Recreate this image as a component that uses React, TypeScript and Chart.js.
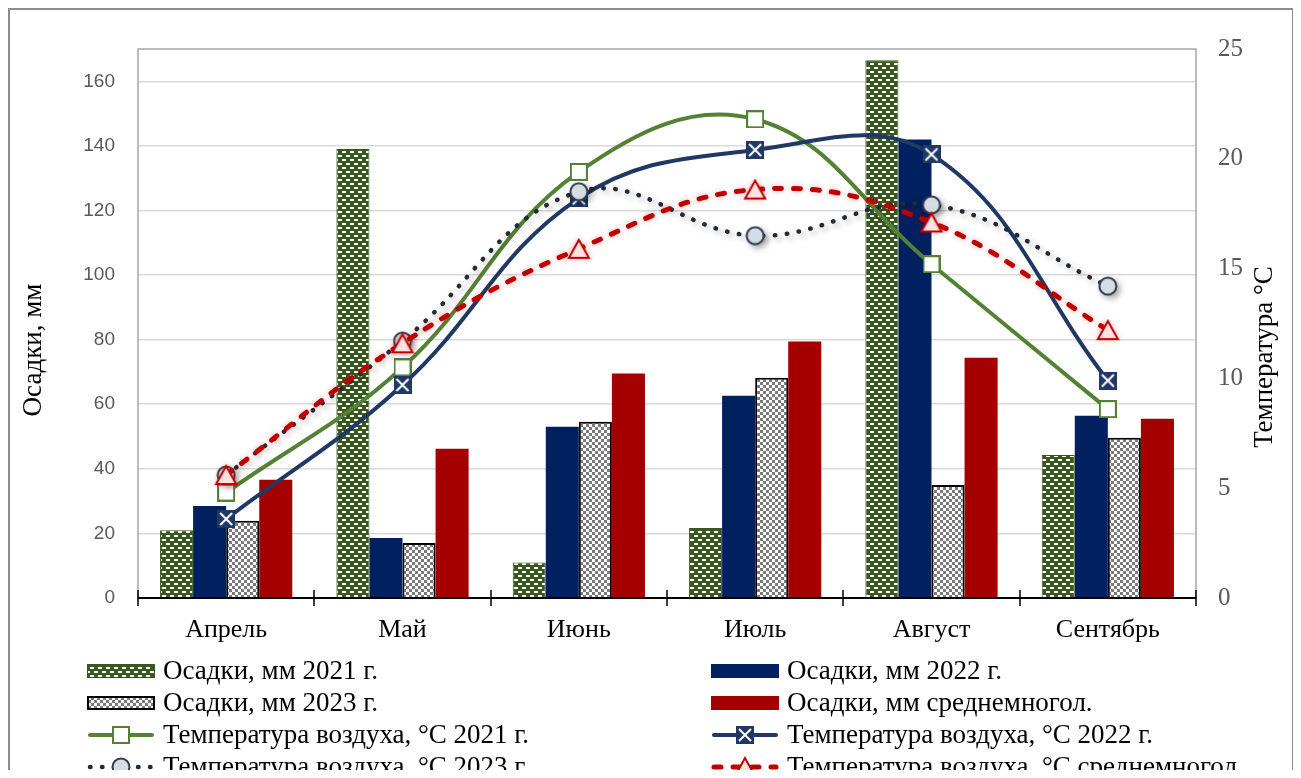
import React, { useEffect, useRef } from 'react';
import { Chart, registerables } from 'chart.js';

Chart.register(...registerables);

const months = ['Апрель', 'Май', 'Июнь', 'Июль', 'Август', 'Сентябрь'];

const precip2021 = [21, 139, 11, 21.7, 166.5, 44.3];
const precip2022 = [28.5, 18.6, 53, 62.6, 142, 56.4];
const precip2023 = [23.9, 17, 54.6, 68.2, 35, 49.6];
const precipMean = [36.6, 46.2, 69.5, 79.4, 74.4, 55.5];

const temp2021 = [4.8, 10.5, 19.4, 21.8, 15.2, 8.6];
const temp2022 = [3.6, 9.7, 18.2, 20.4, 20.2, 9.9];
const temp2023 = [5.6, 11.7, 18.5, 16.5, 17.9, 14.2];
const tempMean = [5.6, 11.6, 15.9, 18.6, 17.1, 12.2];

const seriesLabels = [
  'Осадки, мм 2021 г.',
  'Осадки, мм 2022 г.',
  'Осадки, мм 2023 г.',
  'Осадки, мм среднемногол.',
  'Температура воздуха, °С 2021 г.',
  'Температура воздуха, °С 2022 г.',
  'Температура воздуха, °С 2023 г.',
  'Температура воздуха, °С среднемногол.',
];

const leftTitle = 'Осадки, мм';
const rightTitle = 'Температура °С';

const GREEN_BAR = '#38581f';
const NAVY_BAR = '#002060';
const RED_BAR = '#a50000';
const GREEN_LINE = '#548235';
const NAVY_LINE = '#203864';
const DOT_LINE = '#222a35';
const RED_LINE = '#c00000';

function makeCanvas(w: number, h: number, draw: (g: CanvasRenderingContext2D) => void) {
  const c = document.createElement('canvas');
  c.width = w;
  c.height = h;
  const g = c.getContext('2d')!;
  draw(g);
  return c;
}

const SERIF = '"Liberation Serif", "Times New Roman", serif';
const SANS = '"Liberation Sans", Arial, sans-serif';

export default function App() {
  const ref = useRef<HTMLCanvasElement | null>(null);

  useEffect(() => {
    document.documentElement.style.overflow = 'hidden';
    const canvas = ref.current!;
    const ctx = canvas.getContext('2d')!;

    const dashTile = makeCanvas(8, 8, (g) => {
      g.fillStyle = GREEN_BAR;
      g.fillRect(0, 0, 8, 8);
      g.fillStyle = '#ffffff';
      g.fillRect(0, 1, 4, 2);
      g.fillRect(4, 5, 4, 2);
    });
    const checkTile = makeCanvas(6, 6, (g) => {
      g.fillStyle = '#ffffff';
      g.fillRect(0, 0, 6, 6);
      g.fillStyle = '#7a7a7a';
      g.fillRect(0, 0, 3, 3);
      g.fillRect(3, 3, 3, 3);
    });
    const dashPattern = ctx.createPattern(dashTile, 'repeat')!;
    const checkPattern = ctx.createPattern(checkTile, 'repeat')!;

    const sqMarker = makeCanvas(18, 18, (g) => {
      g.fillStyle = '#ffffff';
      g.fillRect(1, 1, 16, 16);
      g.strokeStyle = GREEN_LINE;
      g.lineWidth = 2;
      g.strokeRect(1, 1, 16, 16);
    });
    const xMarker = makeCanvas(18, 18, (g) => {
      g.fillStyle = NAVY_LINE;
      g.fillRect(0, 0, 18, 18);
      g.strokeStyle = '#ffffff';
      g.lineWidth = 2;
      g.beginPath();
      g.moveTo(3, 3);
      g.lineTo(15, 15);
      g.moveTo(15, 3);
      g.lineTo(3, 15);
      g.stroke();
    });
    const circleMarker = makeCanvas(20, 20, (g) => {
      g.beginPath();
      g.arc(10, 10, 8.5, 0, Math.PI * 2);
      g.fillStyle = '#d6dce4';
      g.fill();
      g.strokeStyle = '#2f3b4f';
      g.lineWidth = 2;
      g.stroke();
    });
    const triMarker = makeCanvas(24, 22, (g) => {
      g.beginPath();
      g.moveTo(12, 2);
      g.lineTo(22, 20);
      g.lineTo(2, 20);
      g.closePath();
      g.fillStyle = '#fde2e2';
      g.fill();
      g.strokeStyle = RED_LINE;
      g.lineWidth = 2;
      g.stroke();
    });

    const barCommon = {
      type: 'bar' as const,
      yAxisID: 'y',
      order: 10,
      barPercentage: 1,
      categoryPercentage: 0.75,
    };

    const lineCommon = {
      type: 'line' as const,
      yAxisID: 'y1',
      tension: 0.4,
      fill: false,
      pointRadius: 8,
      borderCapStyle: 'round' as const,
    };

    const datasets: any[] = [
      { ...barCommon, label: seriesLabels[0], data: precip2021, backgroundColor: dashPattern, borderColor: GREEN_BAR, borderWidth: 1 },
      { ...barCommon, label: seriesLabels[1], data: precip2022, backgroundColor: NAVY_BAR, borderWidth: 0 },
      { ...barCommon, label: seriesLabels[2], data: precip2023, backgroundColor: checkPattern, borderColor: '#000000', borderWidth: 2 },
      { ...barCommon, label: seriesLabels[3], data: precipMean, backgroundColor: RED_BAR, borderWidth: 0 },
      { ...lineCommon, label: seriesLabels[4], data: temp2021, borderColor: GREEN_LINE, borderWidth: 4, pointStyle: sqMarker, order: 4 },
      { ...lineCommon, label: seriesLabels[5], data: temp2022, borderColor: NAVY_LINE, borderWidth: 4, pointStyle: xMarker, order: 3 },
      {
        ...lineCommon, label: seriesLabels[6], data: temp2023, borderColor: DOT_LINE, borderWidth: 4.5,
        borderDash: [0.5, 11.5], pointStyle: circleMarker, order: 2,
        shadow: { color: 'rgba(0,0,0,0.35)', blur: 6, x: 3, y: 3 },
      },
      {
        ...lineCommon, label: seriesLabels[7], data: tempMean, borderColor: RED_LINE, borderWidth: 5,
        borderDash: [7, 12], pointStyle: triMarker, order: 1,
        shadow: { color: 'rgba(192,0,0,0.3)', blur: 6, x: 0, y: 0 },
      },
    ];

    const legendItems = [
      { kind: 'bar', fill: dashPattern, stroke: GREEN_BAR, sw: 1 },
      { kind: 'bar', fill: NAVY_BAR, stroke: null, sw: 0 },
      { kind: 'bar', fill: checkPattern, stroke: '#000000', sw: 2 },
      { kind: 'bar', fill: RED_BAR, stroke: null, sw: 0 },
      { kind: 'line', color: GREEN_LINE, width: 4, dash: [] as number[], marker: sqMarker },
      { kind: 'line', color: NAVY_LINE, width: 4, dash: [] as number[], marker: xMarker },
      { kind: 'line', color: DOT_LINE, width: 4.5, dash: [0.5, 11.5], marker: circleMarker },
      { kind: 'line', color: RED_LINE, width: 5, dash: [7, 12], marker: triMarker },
    ];

    const shadowPlugin = {
      id: 'shadowPlugin',
      beforeDatasetDraw(chart: any, args: any) {
        const ds = chart.data.datasets[args.index];
        if (ds.shadow) {
          const c = chart.ctx;
          c.save();
          c.shadowColor = ds.shadow.color;
          c.shadowBlur = ds.shadow.blur;
          c.shadowOffsetX = ds.shadow.x;
          c.shadowOffsetY = ds.shadow.y;
        }
      },
      afterDatasetDraw(chart: any, args: any) {
        const ds = chart.data.datasets[args.index];
        if (ds.shadow) chart.ctx.restore();
      },
    };

    const decorPlugin = {
      id: 'decorPlugin',
      beforeDatasetsDraw(chart: any) {
        const c = chart.ctx;
        const a = chart.chartArea;
        c.save();
        c.strokeStyle = '#a6a6a6';
        c.lineWidth = 1.5;
        c.strokeRect(a.left, a.top, a.right - a.left, a.bottom - a.top);
        c.restore();
      },
      afterDatasetsDraw(chart: any) {
        const c = chart.ctx;
        const a = chart.chartArea;
        c.save();
        c.strokeStyle = '#000000';
        c.lineWidth = 2;
        c.beginPath();
        c.moveTo(a.left, a.bottom);
        c.lineTo(a.right, a.bottom);
        c.stroke();
        c.lineWidth = 1.5;
        const n = months.length;
        const w = (a.right - a.left) / n;
        c.beginPath();
        for (let i = 0; i <= n; i++) {
          const x = Math.round(a.left + i * w);
          c.moveTo(x, a.bottom - 8);
          c.lineTo(x, a.bottom + 8);
        }
        c.stroke();
        c.restore();
      },
      afterDraw(chart: any) {
        const c = chart.ctx;
        c.save();
        c.fillStyle = '#000000';
        c.font = `27px ${SERIF}`;
        c.textAlign = 'center';
        c.textBaseline = 'middle';
        c.save();
        c.translate(24, 340);
        c.rotate(-Math.PI / 2);
        c.fillText(leftTitle, 0, 0);
        c.restore();
        c.save();
        c.translate(1255, 347);
        c.rotate(-Math.PI / 2);
        c.fillText(rightTitle, 0, 0);
        c.restore();

        // legend
        const cols = [77, 701];
        const rows = [661, 693, 725, 757];
        const patchW = 68;
        legendItems.forEach((it: any, i: number) => {
          const x0 = cols[i % 2];
          const y = rows[Math.floor(i / 2)];
          if (it.kind === 'bar') {
            c.fillStyle = it.fill;
            c.fillRect(x0, y - 7, patchW, 14);
            if (it.stroke) {
              c.strokeStyle = it.stroke;
              c.lineWidth = it.sw;
              c.strokeRect(x0 + it.sw / 2, y - 7 + it.sw / 2, patchW - it.sw, 14 - it.sw);
            }
          } else {
            c.save();
            c.strokeStyle = it.color;
            c.lineWidth = it.width;
            c.lineCap = 'round';
            c.setLineDash(it.dash);
            c.beginPath();
            c.moveTo(x0 + 3, y);
            c.lineTo(x0 + patchW - 3, y);
            c.stroke();
            c.restore();
            const m = it.marker;
            c.drawImage(m, x0 + patchW / 2 - m.width / 2, y - m.height / 2);
          }
          c.fillStyle = '#000000';
          c.font = `27px ${SERIF}`;
          c.textAlign = 'left';
          c.textBaseline = 'middle';
          c.fillText(seriesLabels[i], x0 + 76, y + 1);
        });
        c.restore();
      },
    };

    const chart = new Chart(ctx, {
      type: 'bar',
      data: { labels: months, datasets },
      options: {
        responsive: false,
        animation: false,
        layout: { padding: { top: 39, left: 0, right: 0, bottom: 0 } },
        plugins: {
          legend: { display: false },
          tooltip: { enabled: false },
        },
        scales: {
          x: {
            grid: { display: false, drawTicks: false },
            border: { display: false },
            ticks: { color: '#000000', font: { family: SERIF, size: 26 }, padding: 17 },
            afterFit: (s: any) => { s.height = 180; },
          },
          y: {
            position: 'left',
            min: 0,
            max: 170,
            ticks: { stepSize: 20, color: '#595959', font: { family: SANS, size: 19 }, padding: 23 },
            grid: { color: '#d9d9d9', lineWidth: 1.5, drawTicks: false },
            border: { display: false },
            afterBuildTicks: (s: any) => { s.ticks = s.ticks.filter((t: any) => t.value <= 160); },
            afterFit: (s: any) => { s.width = 128; },
          },
          y1: {
            position: 'right',
            min: 0,
            max: 25,
            ticks: { stepSize: 5, color: '#595959', font: { family: SERIF, size: 25 }, padding: 22 },
            grid: { drawOnChartArea: false, drawTicks: false },
            border: { display: false },
            afterFit: (s: any) => { s.width = 96; },
          },
        },
      } as any,
      plugins: [shadowPlugin, decorPlugin],
    });

    return () => chart.destroy();
  }, []);

  return (
    <div
      style={{
        width: 1286,
        height: 770,
        marginBottom: -8,
        boxSizing: 'border-box',
        borderTop: '2px solid #8c8c8c',
        borderLeft: '2px solid #8c8c8c',
        borderRight: '2px solid #8c8c8c',
        background: '#ffffff',
      }}
    >
      <canvas ref={ref} width={1282} height={768} style={{ display: 'block', width: 1282, height: 768 }} />
    </div>
  );
}
